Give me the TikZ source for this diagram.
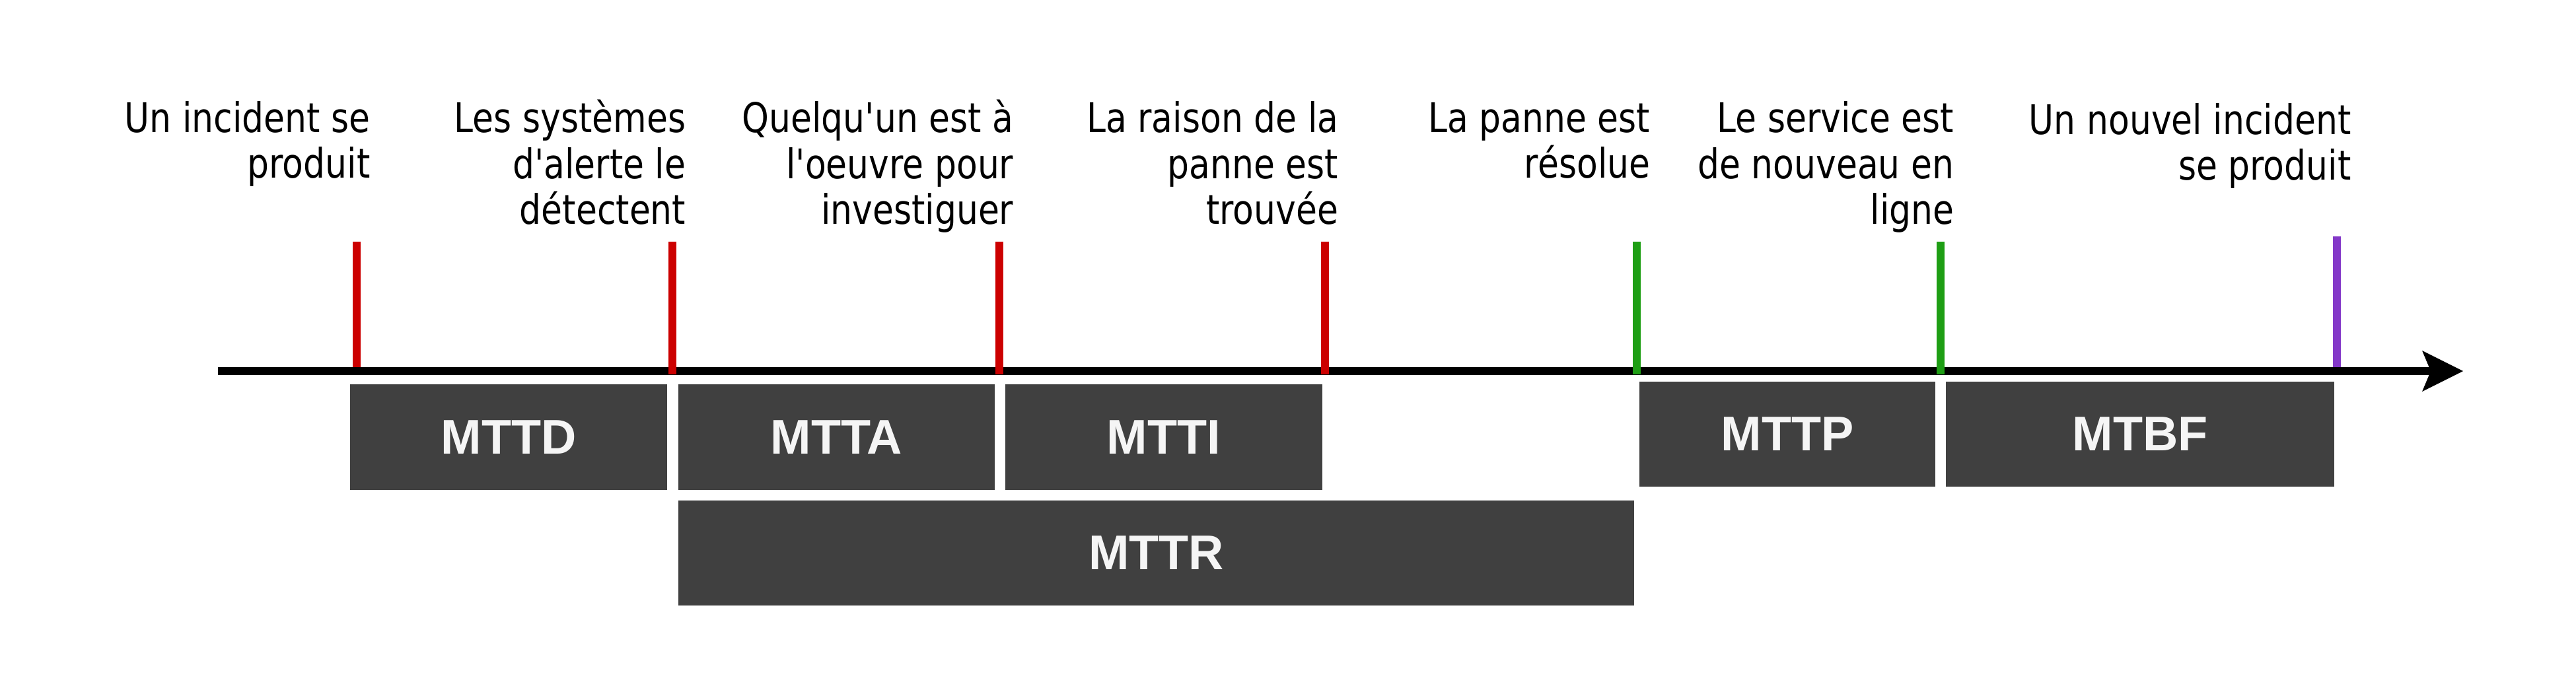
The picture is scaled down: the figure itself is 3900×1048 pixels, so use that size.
\documentclass[tikz,border=0pt]{standalone}
\usepackage{fontspec}
\usetikzlibrary{arrows.meta}
\newfontfamily\eventfont{DejaVu Sans}[FakeStretch=0.84, Ligatures=TeXOff]
\newfontfamily\boxfont{Liberation Sans}
\definecolor{tickred}{HTML}{CC0000}
\definecolor{tickgreen}{HTML}{1E9E14}
\definecolor{tickpurple}{HTML}{8338C8}
\definecolor{boxgray}{HTML}{404040}
\definecolor{boxtext}{HTML}{F5F5F5}
\tikzset{> = {Stealth[length=6.2mm, width=6.2mm, inset=1.3mm, line width=0pt]}}
\tikzset{
  event/.style = {anchor=base east, inner sep=0pt, align=right, font=\eventfont\fontsize{17.6pt}{19.9pt}\selectfont},
  period/.style = {fill=boxgray, text=boxtext, inner sep=0pt, minimum height=16mm, font=\boxfont\bfseries\fontsize{21pt}{24pt}\selectfont},
  tickline/.style = {line width=1.2mm}
}

\begin{document}
\begin{tikzpicture}[x=0.1mm, y=-0.1mm]
\useasboundingbox (0,0) rectangle (3900,1048);
% ticks under the axis
\draw[tickline, tickred] (540,366) -- (540,560);
\draw[tickline, tickpurple] (3538,358) -- (3538,560);
% time axis
\coordinate (start) at (330,562);
\coordinate (end) at (3729,562);
\draw[->, line width=1.2mm] (start) -- (end);
% ticks over the axis
\draw[tickline, tickred] (1018,366) -- (1018,567);
\draw[tickline, tickred] (1513,366) -- (1513,567);
\draw[tickline, tickred] (2006,366) -- (2006,567);
\draw[tickline, tickgreen] (2478,366) -- (2478,567);
\draw[tickline, tickgreen] (2938,366) -- (2938,567);
% events (anchored on the last line)
\node[event] (occur) at (561,270) {Un incident se\\produit};
\node[event] (detect) at (1039,340) {Les systèmes\\d'alerte le\\détectent};
\node[event] (ack) at (1535,340) {Quelqu'un est à\\l'oeuvre pour\\investiguer};
\node[event] (cause) at (2027,340) {La raison de la\\panne est\\trouvée};
\node[event] (fix) at (2499,270) {La panne est\\résolue};
\node[event] (online) at (2959,340) {Le service est\\de nouveau en\\ligne};
\node[event] (next) at (3560,273) {Un nouvel incident\\se produit};
% periods
\node[period, minimum width=48mm] (MTTD) at (770,662) {MTTD};
\node[period, minimum width=47.9mm] (MTTA) at (1266.5,662) {MTTA};
\node[period, minimum width=48mm] (MTTI) at (1762,662) {MTTI};
\node[period, minimum width=144.7mm, minimum height=15.9mm] (MTTR) at (1750.5,837.5) {MTTR};
\node[period, minimum width=44.8mm, minimum height=15.9mm] (MTTP) at (2706,657.5) {MTTP};
\node[period, minimum width=58.8mm, minimum height=15.9mm] (MTBF) at (3240,657.5) {MTBF};
\end{tikzpicture}
\end{document}
